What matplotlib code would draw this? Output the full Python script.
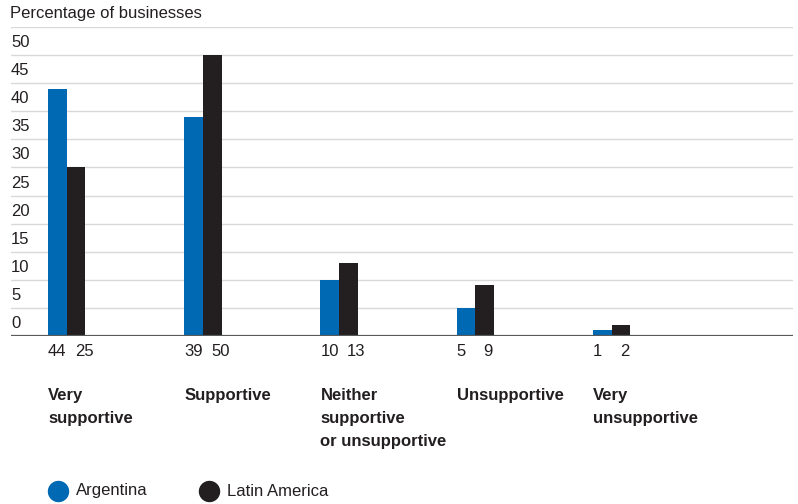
import matplotlib
matplotlib.use("Agg")
import matplotlib.pyplot as plt
from matplotlib.lines import Line2D

plt.rcParams['font.family'] = ['Liberation Sans', 'DejaVu Sans']

categories = ["Very\nsupportive", "Supportive", "Neither\nsupportive\nor unsupportive",
              "Unsupportive", "Very\nunsupportive"]
series_names = ["Argentina", "Latin America"]
argentina = [44, 39, 10, 5, 1]
latam = [30, 50, 13, 9, 2]          # bar heights as drawn
argentina_labels = ["44", "39", "10", "5", "1"]
latam_labels = ["25", "50", "13", "9", "2"]
yticks = [0, 5, 10, 15, 20, 25, 30, 35, 40, 45, 50]
colors = ["#0069b4", "#231f20"]
text_color = "#231f20"

W, H = 798, 504
fig = plt.figure(figsize=(W / 100, H / 100), dpi=100)
ax = fig.add_axes([11 / W, 1 - 336 / H, (793 - 11) / W, (336 - 27) / H])

bw = 0.137
x = list(range(len(categories)))
ax.bar([i for i in x], argentina, width=bw, align='edge', color=colors[0], zorder=3)
ax.bar([i + bw for i in x], latam, width=bw, align='edge', color=colors[1], zorder=3)

ax.set_xlim(-0.2716, 5.468)
ax.set_ylim(0, 55)
for v in yticks[1:] + [55]:
    ax.axhline(v, color="#d9d9d9", lw=1.0, zorder=1)
ax.axhline(0, color="#58595b", lw=1.6, zorder=4)

for s in ax.spines.values():
    s.set_visible(False)
ax.set_xticks([])
ax.set_yticks([])

for v in yticks:
    ax.annotate(str(v), xy=(0, v), xycoords=('axes fraction', 'data'),
                xytext=(0, 8), textcoords='offset pixels', ha='left', va='baseline',
                fontsize=12, color=text_color)

for i in x:
    ax.annotate(argentina_labels[i], xy=(i, 0), xytext=(0, -15), textcoords='offset pixels',
                ha='left', va='center', fontsize=12, color=text_color, annotation_clip=False)
    ax.annotate(latam_labels[i], xy=(i + bw, 0), xytext=(8, -15), textcoords='offset pixels',
                ha='left', va='center', fontsize=12, color=text_color, annotation_clip=False)
    ax.annotate(categories[i], xy=(i, 0), xytext=(0, -52), textcoords='offset pixels',
                ha='left', va='top', fontsize=12, fontweight='bold', color=text_color,
                linespacing=1.65, annotation_clip=False)

fig.text(10 / W, 1 - 18 / H, "Percentage of businesses", ha='left', va='baseline',
         fontsize=12, color=text_color)

legend_pos = [(58, 76), (209, 227)]
for (cx, tx), name, c in zip(legend_pos, series_names, colors):
    fig.add_artist(Line2D([cx / W], [1 - 491 / H], transform=fig.transFigure,
                          marker='o', markersize=14.4, color=c, linestyle='none'))
    fig.text(tx / W, 1 - 491 / H, name, ha='left', va='center', fontsize=12, color=text_color)

fig.savefig("out.png", dpi=100)
